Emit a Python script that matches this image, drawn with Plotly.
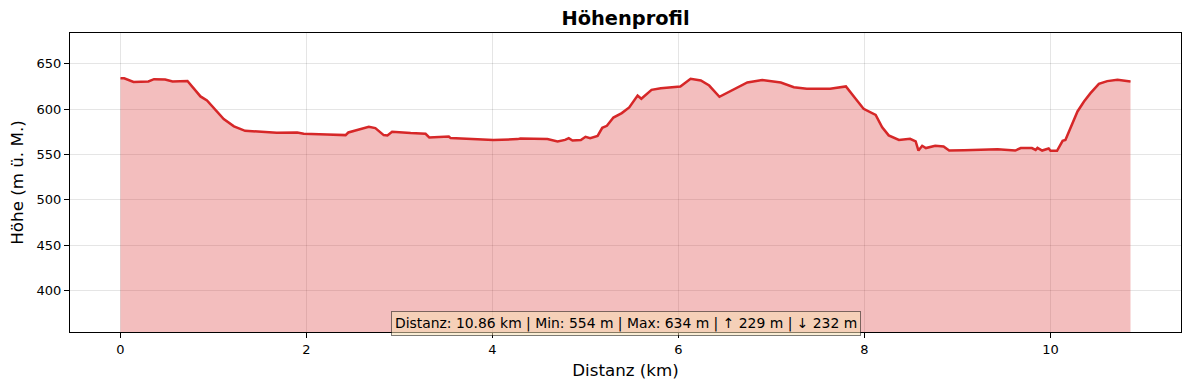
import plotly.graph_objects as go

distance_km = [0.00, 0.04, 0.14, 0.30, 0.36, 0.48, 0.56, 0.72, 0.86, 0.93, 1.11, 1.22, 1.34, 1.51, 1.68,
               1.90, 1.97, 2.22, 2.42, 2.45, 2.58, 2.67, 2.74, 2.83, 2.87, 2.92, 3.12, 3.28, 3.32, 3.42,
               3.53, 3.55, 3.66, 3.80, 4.01, 4.27, 4.30, 4.59, 4.70, 4.78, 4.82, 4.86, 4.95, 5.00, 5.05,
               5.13, 5.18, 5.23, 5.30, 5.39, 5.47, 5.56, 5.60, 5.71, 5.81, 6.02, 6.13, 6.24, 6.33, 6.44,
               6.54, 6.74, 6.90, 7.10, 7.24, 7.38, 7.63, 7.80, 7.90, 7.99, 8.12, 8.19, 8.26, 8.37, 8.49,
               8.55, 8.58, 8.62, 8.66, 8.76, 8.85, 8.91, 9.07, 9.43, 9.62, 9.68, 9.80, 9.84, 9.86, 9.91,
               9.98, 10.00, 10.07, 10.13, 10.16, 10.23, 10.29, 10.36, 10.43, 10.52, 10.61, 10.72, 10.86]
elevation_m = [634, 634, 630, 630.5, 633, 632.7, 630.5, 631, 614, 609.5, 589, 581, 576, 575.3, 574,
               574.2, 572.7, 572, 571.3, 574.2, 578, 580.5, 579, 571.3, 571, 575, 573.5, 572.7, 568.7, 569.4,
               569.8, 568, 567.6, 566.5, 565.8, 566.9, 567.6, 566.9, 564.3, 566, 568, 565.4, 566, 569.4, 568,
               570.5, 579.4, 581.6, 590.7, 595.6, 601.8, 615, 611.4, 621.3, 623, 625, 633.4, 631.6, 626, 613.6,
               618.8, 629.4, 632, 629.4, 624.2, 622.4, 622.4, 625, 612, 600.3, 593.7, 580, 571, 566, 567.2,
               564.3, 554.3, 559.5, 557, 559.5, 558.7, 554.3, 554.7, 555.8, 554.3, 557, 557, 555, 557.3, 554.3,
               556.5, 554, 554, 565, 566, 583.4, 597.4, 608.4, 617.6, 627.9, 630.9, 632.3, 630.5]

x_ticks = [0, 2, 4, 6, 8, 10]
y_ticks = [400, 450, 500, 550, 600, 650]
stats_text = "Distanz: 10.86 km | Min: 554 m | Max: 634 m | ↑ 229 m | ↓ 232 m"

font = "DejaVu Sans"
red = "#d62728"

fig = go.Figure()
fig.add_trace(go.Scatter(x=distance_km, y=elevation_m, mode="lines", fill="tozeroy",
                         fillcolor="rgba(214,39,40,0.3)", line=dict(color="rgba(214,39,40,0.3)", width=1),
                         hoverinfo="skip", showlegend=False))
fig.add_trace(go.Scatter(x=distance_km, y=elevation_m, mode="lines",
                         line=dict(color=red, width=2.5), showlegend=False))

axis_common = dict(showline=True, linecolor="black", linewidth=1, mirror=True,
                   ticks="outside", ticklen=5, tickcolor="black",
                   showgrid=True, gridcolor="rgba(0,0,0,0.1)", gridwidth=1, zeroline=False,
                   tickfont=dict(family=font, size=13, color="black"))

fig.update_layout(
    width=1189, height=390,
    margin=dict(l=70, r=8, t=33, b=58),
    paper_bgcolor="white", plot_bgcolor="white",
    title=dict(text="<b>Höhenprofil</b>", xref="paper", x=0.5, xanchor="center", y=1 - 18 / 390,
               yanchor="middle", font=dict(family=font, size=19.4, color="black")),
    xaxis=dict(range=[-0.543, 11.403], tickvals=x_ticks, ticktext=[str(v) for v in x_ticks],
               title=dict(text="Distanz (km)", font=dict(family=font, size=16.7, color="black"), standoff=8),
               **axis_common),
    yaxis=dict(range=[354, 684], tickvals=y_ticks, ticktext=[str(v) for v in y_ticks],
               title=dict(text="Höhe (m ü. M.)", font=dict(family=font, size=16.7, color="black"), standoff=8),
               **axis_common),
    annotations=[dict(text=stats_text, xref="paper", yref="paper", x=0.5, y=0.03, xanchor="center",
                      yanchor="middle", showarrow=False,
                      font=dict(family=font, size=13.9, color="black"),
                      bgcolor="rgba(245,222,179,0.55)", bordercolor="rgba(0,0,0,0.5)", borderwidth=1,
                      borderpad=3)],
)

fig.write_html("out.html")
